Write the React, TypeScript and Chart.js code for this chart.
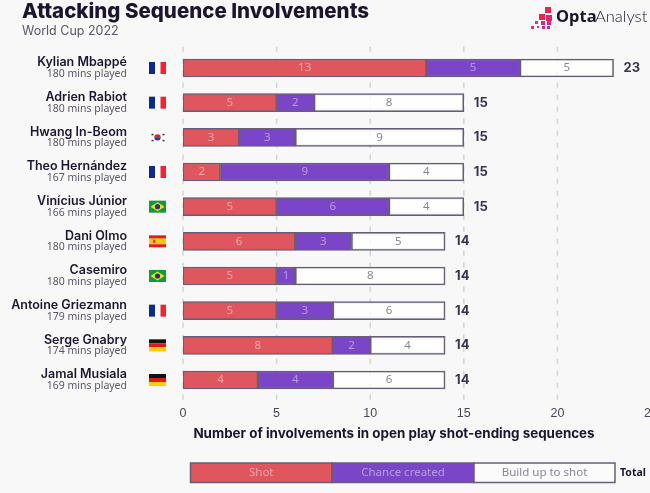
import React, { useEffect, useRef } from "react";
import { Chart, registerables } from "chart.js";
Chart.register(...registerables);

const players = ["Kylian Mbappé","Adrien Rabiot","Hwang In-Beom","Theo Hernández","Vinícius Júnior","Dani Olmo","Casemiro","Antoine Griezmann","Serge Gnabry","Jamal Musiala"];
const minutes = [180,180,180,167,166,180,180,179,174,169];
const nations = ["fr","fr","kr","fr","br","es","br","fr","de","de"];
const shots = [13,5,3,2,5,6,5,5,8,4];
const chances = [5,2,3,9,6,3,1,3,2,4];
const buildUps = [5,8,9,4,4,5,8,6,4,6];
const totals = [23,15,15,15,15,14,14,14,14,14];
const xTicks = [0,5,10,15,20,25];
const legendNames = ["Shot","Chance created","Build up to shot"];

const RED = "#e0565f", PURPLE = "#7b45c8", WHITE = "rgba(255,255,255,0.8)", BORDER = "#675d76", INK = "#1d1530", SUB = "#5c5668";
const FONT = "Inter, sans-serif";
const NARROW = "'Liberation Sans Narrow', 'Noto Sans', sans-serif";

function flag(c: CanvasRenderingContext2D, code: string, cx: number, cy: number) {
  const x = cx - 8.5, y = cy - 6, w = 17, h = 12;
  const r = (col: string, a: number, b: number, d: number, e: number) => { c.fillStyle = col; c.fillRect(a, b, d, e); };
  if (code === "fr") { r("#ffffff", x, y, w, h); r("#0b2a8c", x, y, 6, h); r("#ee2436", x + 11.5, y, 5.5, h); }
  if (code === "kr") {
    r("#ffffff", x, y, w, h);
    c.fillStyle = "#d8233c"; c.beginPath(); c.arc(cx, cy, 3.2, Math.PI, 0); c.fill();
    c.fillStyle = "#1c3f94"; c.beginPath(); c.arc(cx, cy, 3.2, 0, Math.PI); c.fill();
    c.fillStyle = "#333";
    [[-6,-3.5],[5,-3.5],[-6,2.5],[5,2.5]].forEach(([a,b]) => c.fillRect(cx + a, cy + b, 2, 1.5));
  }
  if (code === "br") {
    r("#109a3e", x, y, w, h);
    c.fillStyle = "#f5dd10"; c.beginPath(); c.moveTo(cx - 7, cy); c.lineTo(cx, cy - 4.5); c.lineTo(cx + 7, cy); c.lineTo(cx, cy + 4.5); c.closePath(); c.fill();
    c.fillStyle = "#23307f"; c.beginPath(); c.arc(cx, cy, 2.6, 0, Math.PI * 2); c.fill();
  }
  if (code === "es") { r("#d81e2e", x, y, w, h); r("#fbc61c", x, y + 3, w, 6); r("#b5572a", x + 4, cy - 1.5, 2.5, 3); }
  if (code === "de") { r("#111111", x, y, w, 4); r("#dd1a1a", x, y + 4, w, 4); r("#ffcc00", x, y + 8, w, 4); }
}

const overlay = {
  id: "overlay",
  beforeDatasetsDraw(chart: any) {
    const { ctx: c, scales: { x }, chartArea: a } = chart;
    c.save();
    c.strokeStyle = "#d2d2d4"; c.lineWidth = 1.5; c.setLineDash([5, 7]);
    xTicks.forEach(t => { const p = x.getPixelForValue(t); c.beginPath(); c.moveTo(p, a.top - 4); c.lineTo(p, a.bottom + 5); c.stroke(); });
    c.restore();
  },
  afterDatasetsDraw(chart: any) {
    const { ctx: c, scales: { x, y } } = chart;
    c.save();
    c.textBaseline = "middle";
    players.forEach((name, i) => {
      const py = y.getPixelForValue(i);
      c.textAlign = "right"; c.fillStyle = INK; c.font = `600 12.5px ${FONT}`;
      c.fillText(name, 127, py - 5.5);
      c.fillStyle = SUB; c.font = `10.5px ${NARROW}`;
      c.fillText(`${minutes[i]} mins played`, 127, py + 6);
      flag(c, nations[i], 157.5, py);
      c.textAlign = "center"; c.font = `11.5px ${NARROW}`;
      const mid = (from: number, n: number) => x.getPixelForValue(from + n / 2);
      c.fillStyle = "rgba(255,255,255,0.45)";
      c.fillText(String(shots[i]), mid(0, shots[i]), py);
      c.fillText(String(chances[i]), mid(shots[i], chances[i]), py);
      c.fillStyle = "#8a8694";
      c.fillText(String(buildUps[i]), mid(shots[i] + chances[i], buildUps[i]), py);
      c.textAlign = "left"; c.fillStyle = "#3a3350"; c.font = `700 13px ${FONT}`;
      c.fillText(String(totals[i]), x.getPixelForValue(totals[i]) + 10, py);
    });
    // titles
    c.fillStyle = INK; c.textAlign = "left"; c.font = `800 20.5px ${FONT}`;
    c.fillText("Attacking Sequence Involvements", 22, 12);
    c.fillStyle = SUB; c.font = `12.5px ${FONT}`;
    c.fillText("World Cup 2022", 22, 31);
    c.textAlign = "center"; c.fillStyle = INK; c.font = `700 13.4px ${FONT}`;
    c.fillText("Number of involvements in open play shot-ending sequences", 394, 434);
    // legend
    const lx = [190.5, 332, 474], lw = [141.5, 142, 141], cols = [RED, PURPLE, "#fbfbfb"], txt = ["rgba(255,255,255,0.45)", "rgba(255,255,255,0.45)", "#8a8694"];
    c.lineWidth = 1.5; c.strokeStyle = BORDER;
    legendNames.forEach((n, i) => {
      c.fillStyle = cols[i]; c.fillRect(lx[i], 463, lw[i], 19.5); c.strokeRect(lx[i], 463, lw[i], 19.5);
      c.fillStyle = txt[i]; c.font = `11.5px ${NARROW}`; c.textAlign = "center";
      c.fillText(n, lx[i] + lw[i] / 2, 473);
    });
    c.fillStyle = INK; c.textAlign = "left"; c.font = `700 10.5px ${NARROW}`;
    c.fillText("Total", 620, 473);
    // logo
    const sq: [number, number, number, string][] = [[545,7,6,"#e8264f"],[539,14,6,"#e8264f"],[546,15,6,"#d82a6a"],[535,21,3,"#e8306a"],[541,21,4,"#d82a80"],[547,21,4,"#c02ea0"],[531,26,3,"#e8306a"],[537,26,2,"#d82a80"],[542,26,3,"#c02ea0"],[547,26,3,"#a030d0"]];
    sq.forEach(([a,b,s,col]) => { c.fillStyle = col; c.fillRect(a,b,s,s); });
    c.fillStyle = INK; c.textAlign = "left"; c.font = `700 16.5px ${NARROW}`;
    c.fillText("Opta", 556, 17);
    c.font = `300 16.5px Lato`;
    c.fillText("Analyst", 595, 17);
    c.restore();
  },
};

export default function App() {
  const ref = useRef<HTMLCanvasElement>(null);
  useEffect(() => {
    document.body.style.margin = "0";
    document.body.style.overflow = "hidden";
    const ds = (label: string, data: number[], bg: string) => ({ label, data, backgroundColor: bg, borderColor: BORDER, borderWidth: 1.5, borderSkipped: false, barThickness: 18 });
    const chart = new Chart(ref.current!, {
      type: "bar",
      data: { labels: players, datasets: [ds(legendNames[0], shots, RED), ds(legendNames[1], chances, PURPLE), ds(legendNames[2], buildUps, WHITE)] },
      plugins: [overlay],
      options: {
        indexAxis: "y", animation: false, responsive: false,
        layout: { padding: { left: 183, right: 49, top: 50.67, bottom: 65.67 } },
        plugins: { legend: { display: false }, tooltip: { enabled: false } },
        scales: {
          x: { stacked: true, min: 0, max: 25, position: "bottom", border: { display: false }, grid: { display: false },
            afterFit: (s: any) => { s.height = 30; },
            afterBuildTicks: (s: any) => { s.ticks = xTicks.map(value => ({ value })); },
            ticks: { color: "#4c4658", padding: 1, font: { family: "'Liberation Sans Narrow', sans-serif", size: 12.5 }, maxRotation: 0, autoSkip: false } },
          y: { stacked: true, display: false },
        },
      } as any,
    });
    return () => chart.destroy();
  }, []);
  return (
    <div style={{ width: 650, height: 493, overflow: "hidden", background: "#f8f8f8" }}>
      <canvas ref={ref} width={700} height={493} style={{ display: "block" }} />
    </div>
  );
}
